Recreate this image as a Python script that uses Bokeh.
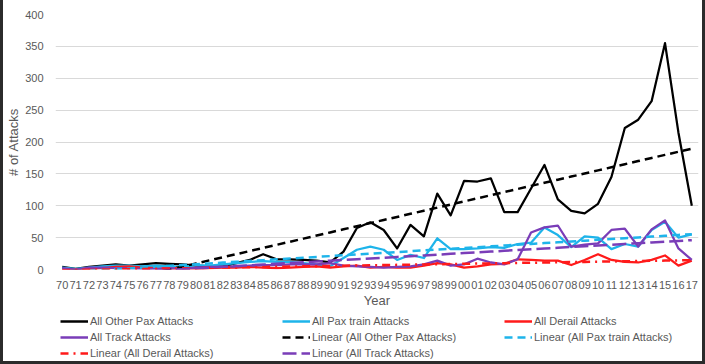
import numpy as np
from bokeh.plotting import figure
from bokeh.layouts import column
from bokeh.models import (ColumnDataSource, FactorRange, Range1d, SingleIntervalTicker,
                          Legend, LegendItem, InlineStyleSheet)
from bokeh.embed import file_html
from bokeh.resources import INLINE

# Two-digit year labels, 1970-2017
years = [f"{y % 100:02d}" for y in range(1970, 2018)]

other_pax = [4, 1, 4, 6, 8, 6, 8, 10, 9, 8,
             6, 5, 5, 10, 15, 24, 16, 16, 15, 14,
             11, 28, 65, 74, 62, 33, 70, 52, 119, 85,
             139, 138, 143, 90, 90, 127, 164, 110, 92, 88,
             103, 145, 222, 235, 264, 355, 215, 100]
pax_train = [3, 1, 3, 5, 6, 6, 5, 6, 5, 4,
             7, 6, 8, 10, 12, 13, 12, 12, 10, 8,
             5, 18, 31, 36, 31, 15, 23, 18, 49, 32,
             32, 33, 35, 34, 40, 42, 66, 54, 35, 52,
             50, 32, 40, 36, 62, 75, 50, 55]
derail = [0, 0, 1, 2, 4, 5, 3, 2, 1, 2,
          1, 2, 3, 3, 4, 3, 2, 3, 4, 5,
          3, 5, 6, 3, 4, 3, 3, 6, 10, 8,
          3, 5, 8, 9, 16, 15, 14, 14, 7, 15,
          24, 15, 12, 11, 15, 22, 6, 14]
track = [2, 0, 3, 3, 2, 2, 1, 1, 2, 1,
         3, 4, 4, 5, 6, 7, 7, 8, 8, 8,
         10, 6, 5, 4, 3, 4, 5, 8, 14, 6,
         8, 17, 11, 8, 16, 58, 66, 69, 36, 39,
         41, 62, 64, 36, 63, 77, 33, 15]

series_names = ["All Other Pax Attacks", "All Pax train Attacks",
                "All Derail Attacks", "All Track Attacks"]
series_colors = ["#000000", "#1EB4EA", "#FF1A1A", "#7A3DB8"]
trend_dashes = ["8 5", "8 5", "8 5 2 5", "14 5"]

FONT = "Liberation Sans"
GREY = "#595959"
W = 705

p = figure(width=W, height=312, x_range=FactorRange(factors=years, range_padding=0),
           y_range=(0, 400), output_backend="svg", toolbar_location=None,
           min_border_left=55, min_border_right=7, min_border_top=14,
           min_border_bottom=43)
p.outline_line_color = None
p.background_fill_color = "white"
p.border_fill_color = "white"

p.xgrid.grid_line_color = None
p.ygrid.grid_line_color = "#D9D9D9"
p.ygrid.grid_line_width = 1

p.yaxis.ticker = SingleIntervalTicker(interval=50)
for ax in (p.xaxis[0], p.yaxis[0]):
    ax.axis_line_color = None
    ax.major_tick_line_color = None
    ax.minor_tick_line_color = None
    ax.major_label_text_font = FONT
    ax.major_label_text_font_size = "11px"
    ax.major_label_text_color = GREY
    ax.axis_label_text_font = FONT
    ax.axis_label_text_font_size = "13px"
    ax.axis_label_text_font_style = "normal"
    ax.axis_label_text_color = GREY

p.xaxis.axis_label = "Year"
p.xaxis.major_label_standoff = 5
p.xaxis.axis_label_standoff = 1
p.yaxis.axis_label = "# of Attacks"
p.yaxis.major_label_standoff = 6
p.yaxis.axis_label_standoff = 1

idx = np.arange(len(years))
all_series = [other_pax, pax_train, derail, track]

for vals, col in zip(all_series, series_colors):
    src = ColumnDataSource(dict(x=years, y=vals))
    p.line("x", "y", source=src, line_color=col, line_width=2.25, line_join="round")

# least-squares linear trend of each series
for vals, col, dash in zip(all_series, series_colors, trend_dashes):
    slope, icpt = np.polyfit(idx, np.array(vals, dtype=float), 1)
    src = ColumnDataSource(dict(x=years, y=icpt + slope * idx))
    p.line("x", "y", source=src, line_color=col, line_width=2.5, line_dash=dash)

# legend strip underneath the chart (its frame lines up with the chart's frame)
lg = figure(width=W, height=52, x_range=Range1d(0, 643), y_range=Range1d(0, 52),
            output_backend="svg", toolbar_location=None,
            min_border=0, min_border_left=0, min_border_right=0,
            min_border_top=0, min_border_bottom=0)
lg.axis.visible = False
lg.grid.visible = False
lg.outline_line_color = None
lg.background_fill_color = "white"
lg.border_fill_color = "white"

# legend swatches, kept outside the visible range
off_x, off_y = [-50, -40], [-50, -50]
swatches = {}
for name, col in zip(series_names, series_colors):
    swatches[name] = lg.line(x=off_x, y=off_y, line_color=col, line_width=2.5)
for name, col, dash in zip(series_names, series_colors, trend_dashes):
    swatches[f"Linear ({name})"] = lg.line(x=off_x, y=off_y, line_color=col,
                                           line_width=2.5, line_dash=dash)

# filled column by column
order = ["All Other Pax Attacks", "All Track Attacks", "Linear (All Derail Attacks)",
         "All Pax train Attacks", "Linear (All Other Pax Attacks)",
         "Linear (All Track Attacks)",
         "All Derail Attacks", "Linear (All Pax train Attacks)"]
items = [LegendItem(label=k, renderers=[swatches[k]]) for k in order]

legend = Legend(items=items, ncols=3, location=(5, 3),
                padding=0, margin=0, spacing=0,
                glyph_width=28, glyph_height=16, label_height=16,
                label_width=192, label_standoff=2,
                label_text_font=FONT, label_text_font_size="11px",
                label_text_color=GREY,
                border_line_color=None, background_fill_alpha=0)
lg.add_layout(legend, "center")

layout = column(p, lg, spacing=0)
layout.stylesheets = [InlineStyleSheet(css=(
    ":host { position: relative; }"
    ":host::after { content: ''; position: absolute; left: 0; top: 0; "
    "width: 705px; height: 364px; box-sizing: border-box; "
    "border-left: 3px solid #2b2b2b; border-right: 3px solid #2b2b2b; "
    "border-bottom: 3px solid #2b2b2b; pointer-events: none; }"))]

open("out.html", "w").write(file_html(layout, INLINE))
